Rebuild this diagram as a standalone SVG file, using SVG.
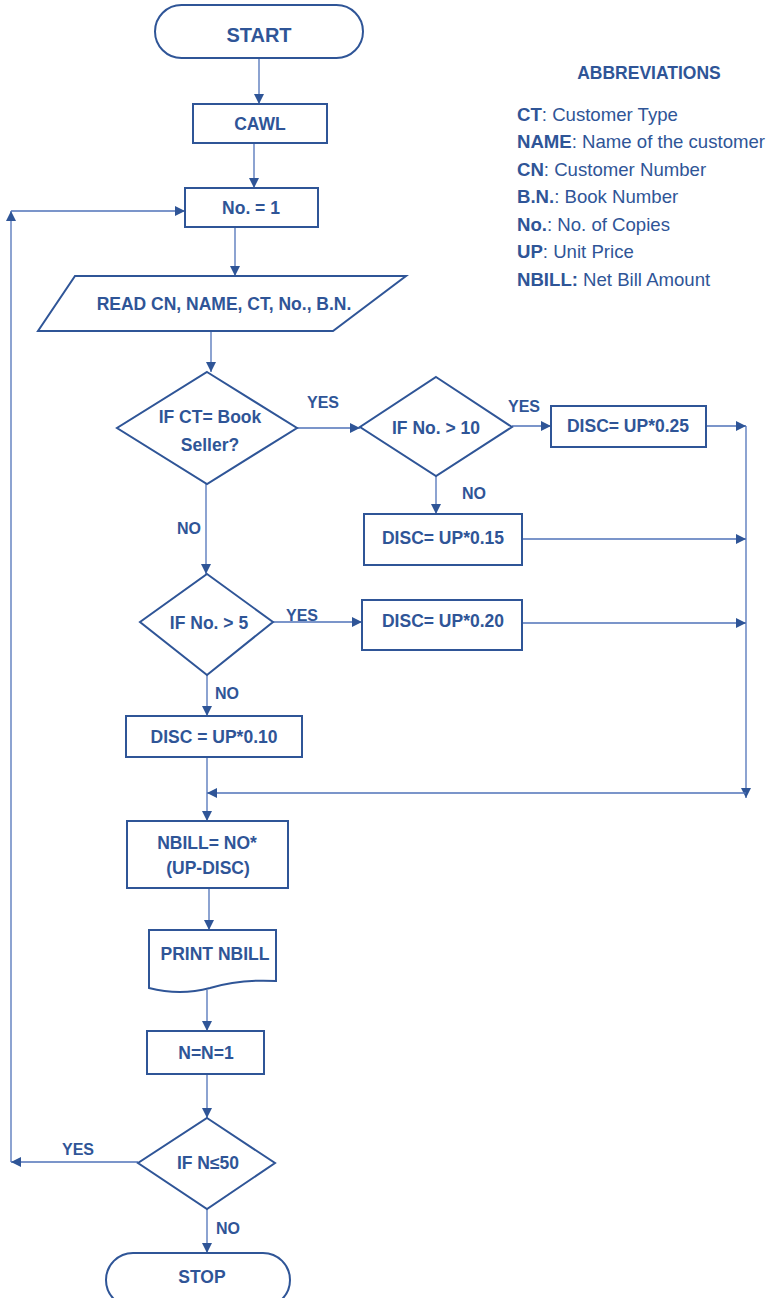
<svg xmlns="http://www.w3.org/2000/svg" width="778" height="1298" viewBox="0 0 778 1298">
<defs>
<marker id="ah" viewBox="0 0 10 10" refX="10" refY="5" markerWidth="10" markerHeight="10" markerUnits="userSpaceOnUse" orient="auto">
<path d="M0,0 L10,5 L0,10 Z" fill="#2F5597"/>
</marker>
<style>
.s{fill:#fff;stroke:#2F5597;stroke-width:2}
.c{fill:none;stroke:#4F72B8;stroke-width:1.3}
.a{marker-end:url(#ah)}
.t{font-family:"Liberation Sans",Arial,sans-serif;font-weight:bold;font-size:17.5px;fill:#2F5597;text-anchor:middle}
.l{font-family:"Liberation Sans",Arial,sans-serif;font-weight:bold;font-size:16px;fill:#2F5597;text-anchor:middle}
.ab{font-family:"Liberation Sans",Arial,sans-serif;font-size:18.6px;fill:#2F5597}
.ab tspan.b{font-weight:bold}
</style>
</defs>
<rect width="778" height="1298" fill="#fff"/>

<g id="connectors">
<path class="c a" d="M259,58 V104"/>
<path class="c a" d="M254,143 V188"/>
<path class="c a" d="M235,227 V276"/>
<path class="c a" d="M211,331 V372"/>
<path class="c a" d="M297,428 H360"/>
<path class="c a" d="M512,426 H551"/>
<path class="c a" d="M706,426 H746"/>
<path class="c a" d="M436,476 V514"/>
<path class="c a" d="M522,539 H746"/>
<path class="c a" d="M522,623 H746"/>
<path class="c a" d="M746,426 V798"/>
<path class="c a" d="M746,793 H207"/>
<path class="c a" d="M206,484 V574"/>
<path class="c a" d="M273,622 H362"/>
<path class="c a" d="M207,675 V716"/>
<path class="c a" d="M207,757 V821"/>
<path class="c a" d="M209,888 V930"/>
<path class="c a" d="M207,990 V1031"/>
<path class="c a" d="M207,1074 V1118"/>
<path class="c a" d="M138,1162 H11"/>
<path class="c a" d="M11,1162 V211"/>
<path class="c a" d="M11,211 H185"/>
<path class="c a" d="M207,1209 V1253"/>
<text class="l" x="323" y="408">YES</text>
<text class="l" x="524" y="412">YES</text>
<text class="l" x="474" y="499">NO</text>
<text class="l" x="189" y="534">NO</text>
<text class="l" x="302" y="621">YES</text>
<text class="l" x="227" y="699">NO</text>
<text class="l" x="78" y="1155">YES</text>
<text class="l" x="228" y="1234">NO</text>
</g>

<g id="start"><rect class="s" x="155" y="5" width="208" height="53" rx="26.5"/><text class="t" x="259" y="42" style="font-size:20px">START</text></g>
<g id="cawl"><rect class="s" x="193" y="104" width="134" height="39"/><text class="t" x="260" y="130">CAWL</text></g>
<g id="init"><rect class="s" x="185" y="188" width="133" height="39"/><text class="t" x="251" y="214">No. = 1</text></g>
<g id="read"><polygon class="s" points="75,276 406,276 333,331 38,331"/><text class="t" x="224" y="310">READ CN, NAME, CT, No., B.N.</text></g>
<g id="dec-ct"><polygon class="s" points="207,372 297,428 207,484 117,428"/><text class="t" x="210" y="423">IF CT= Book</text><text class="t" x="210" y="451">Seller?</text></g>
<g id="dec-10"><polygon class="s" points="436,377 512,427 436,476 360,427"/><text class="t" x="436" y="434">IF No. &gt; 10</text></g>
<g id="disc25"><rect class="s" x="551" y="406" width="155" height="41"/><text class="t" x="628" y="432">DISC= UP*0.25</text></g>
<g id="disc15"><rect class="s" x="364" y="514" width="158" height="51"/><text class="t" x="443" y="544">DISC= UP*0.15</text></g>
<g id="dec-5"><polygon class="s" points="207,574 273,622 207,675 140,622"/><text class="t" x="209" y="629">IF No. &gt; 5</text></g>
<g id="disc20"><rect class="s" x="362" y="600" width="160" height="50"/><text class="t" x="443" y="627">DISC= UP*0.20</text></g>
<g id="disc10"><rect class="s" x="126" y="716" width="176" height="41"/><text class="t" x="214" y="743">DISC = UP*0.10</text></g>
<g id="nbill"><rect class="s" x="127" y="821" width="161" height="67"/><text class="t" x="207" y="849">NBILL= NO*</text><text class="t" x="208" y="874">(UP-DISC)</text></g>
<g id="print"><path class="s" d="M149,930 H276 V981 Q240,979 210,988 Q180,996 149,988 Z"/><text class="t" x="215" y="960">PRINT NBILL</text></g>
<g id="incr"><rect class="s" x="147" y="1031" width="117" height="43"/><text class="t" x="206" y="1059">N=N=1</text></g>
<g id="dec-50"><polygon class="s" points="207,1118 275,1163 207,1209 138,1163"/><text class="t" x="208" y="1169">IF N≤50</text></g>
<g id="stop"><rect class="s" x="106" y="1253" width="184" height="54" rx="27"/><text class="t" x="202" y="1283">STOP</text></g>

<g id="abbreviations">
<text class="t" x="649" y="79">ABBREVIATIONS</text>
<text class="ab" x="517" y="121"><tspan class="b">CT</tspan>: Customer Type</text>
<text class="ab" x="517" y="148"><tspan class="b">NAME</tspan>: Name of the customer</text>
<text class="ab" x="517" y="176"><tspan class="b">CN</tspan>: Customer Number</text>
<text class="ab" x="517" y="203"><tspan class="b">B.N.</tspan>: Book Number</text>
<text class="ab" x="517" y="231"><tspan class="b">No.</tspan>: No. of Copies</text>
<text class="ab" x="517" y="258"><tspan class="b">UP</tspan>: Unit Price</text>
<text class="ab" x="517" y="286"><tspan class="b">NBILL:</tspan> Net Bill Amount</text>
</g>
</svg>
